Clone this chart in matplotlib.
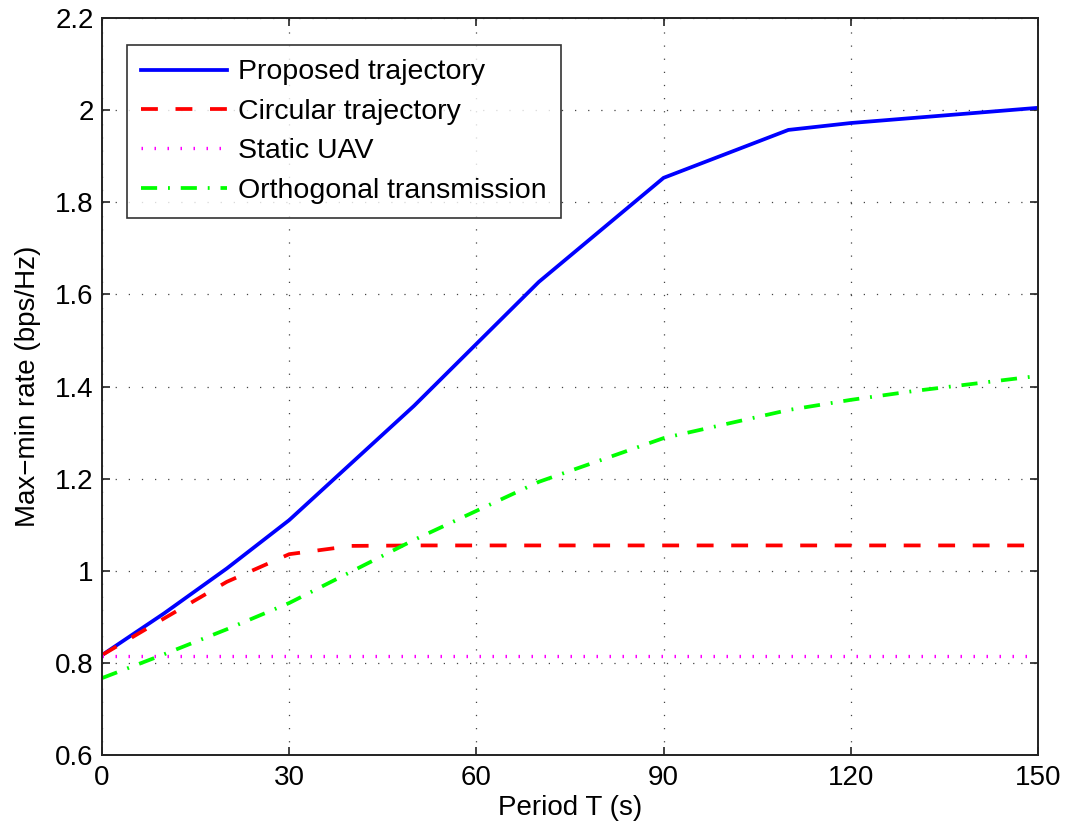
import matplotlib.pyplot as plt

plt.rcParams['font.family'] = ['Liberation Sans', 'DejaVu Sans']

# period T (s)
t_proposed = [0, 10, 20, 30, 50, 70, 90, 110, 120, 150]
rate_proposed = [0.817, 0.908, 1.005, 1.110, 1.358, 1.627, 1.853, 1.957, 1.972, 2.005]

t_circular = [0, 10, 20, 30, 40, 50, 150]
rate_circular = [0.817, 0.897, 0.976, 1.036, 1.054, 1.055, 1.055]

t_static = [0, 150]
rate_static = [0.815, 0.815]

t_orth = [0, 10, 20, 30, 50, 70, 90, 110, 120, 130, 150]
rate_orth = [0.767, 0.819, 0.873, 0.930, 1.067, 1.193, 1.288, 1.349, 1.371, 1.390, 1.423]

fig = plt.figure(figsize=(10.66, 8.33), dpi=100)
ax = fig.add_axes([0.0957, 0.0936, 0.878, 0.8848])

lw = 2.7
ax.plot(t_proposed, rate_proposed, color='#0000ff', lw=lw, label='Proposed trajectory')
ax.plot(t_circular, rate_circular, color='#ff0000', lw=lw, linestyle=(0, (4.5, 4.7)),
        label='Circular trajectory')
ax.plot(t_static, rate_static, color='#ff00ff', lw=2.4, linestyle=(0, (0.45, 3.45)),
        label='Static UAV')
ax.plot(t_orth, rate_orth, color='#00ff00', lw=lw, linestyle=(0, (4.3, 2.9, 0.5, 2.9)),
        label='Orthogonal transmission')

ax.set_xlim(0, 150)
ax.set_ylim(0.6, 2.2)
ax.set_xticks([0, 30, 60, 90, 120, 150])
ax.set_yticks([0.6, 0.8, 1, 1.2, 1.4, 1.6, 1.8, 2, 2.2])
ax.set_yticklabels(['0.6', '0.8', '1', '1.2', '1.4', '1.6', '1.8', '2', '2.2'])
ax.tick_params(direction='in', top=True, right=True, labelsize=20, length=6, width=1.2,
               colors='#222222', labelcolor='black')
ax.tick_params(axis='x', pad=7)
ax.tick_params(axis='y', pad=6)
ax.grid(True, color='#444444', linestyle=(0, (1, 9.5)), linewidth=0.9)
for s in ax.spines.values():
    s.set_linewidth(1.4)
    s.set_color('#222222')

ax.set_xlabel('Period T (s)', fontsize=20, labelpad=3)
ax.set_ylabel('Max\u2212min rate (bps/Hz)', fontsize=20, labelpad=10)

leg = ax.legend(loc='upper left', bbox_to_anchor=(0.0267, 0.963), borderaxespad=0,
                fontsize=20.5, handlelength=3.0, frameon=True, fancybox=False,
                edgecolor='black', borderpad=0.5, labelspacing=0.47, handletextpad=0.4)
leg.get_frame().set_linewidth(1.2)

fig.savefig('out.png', dpi=100)
